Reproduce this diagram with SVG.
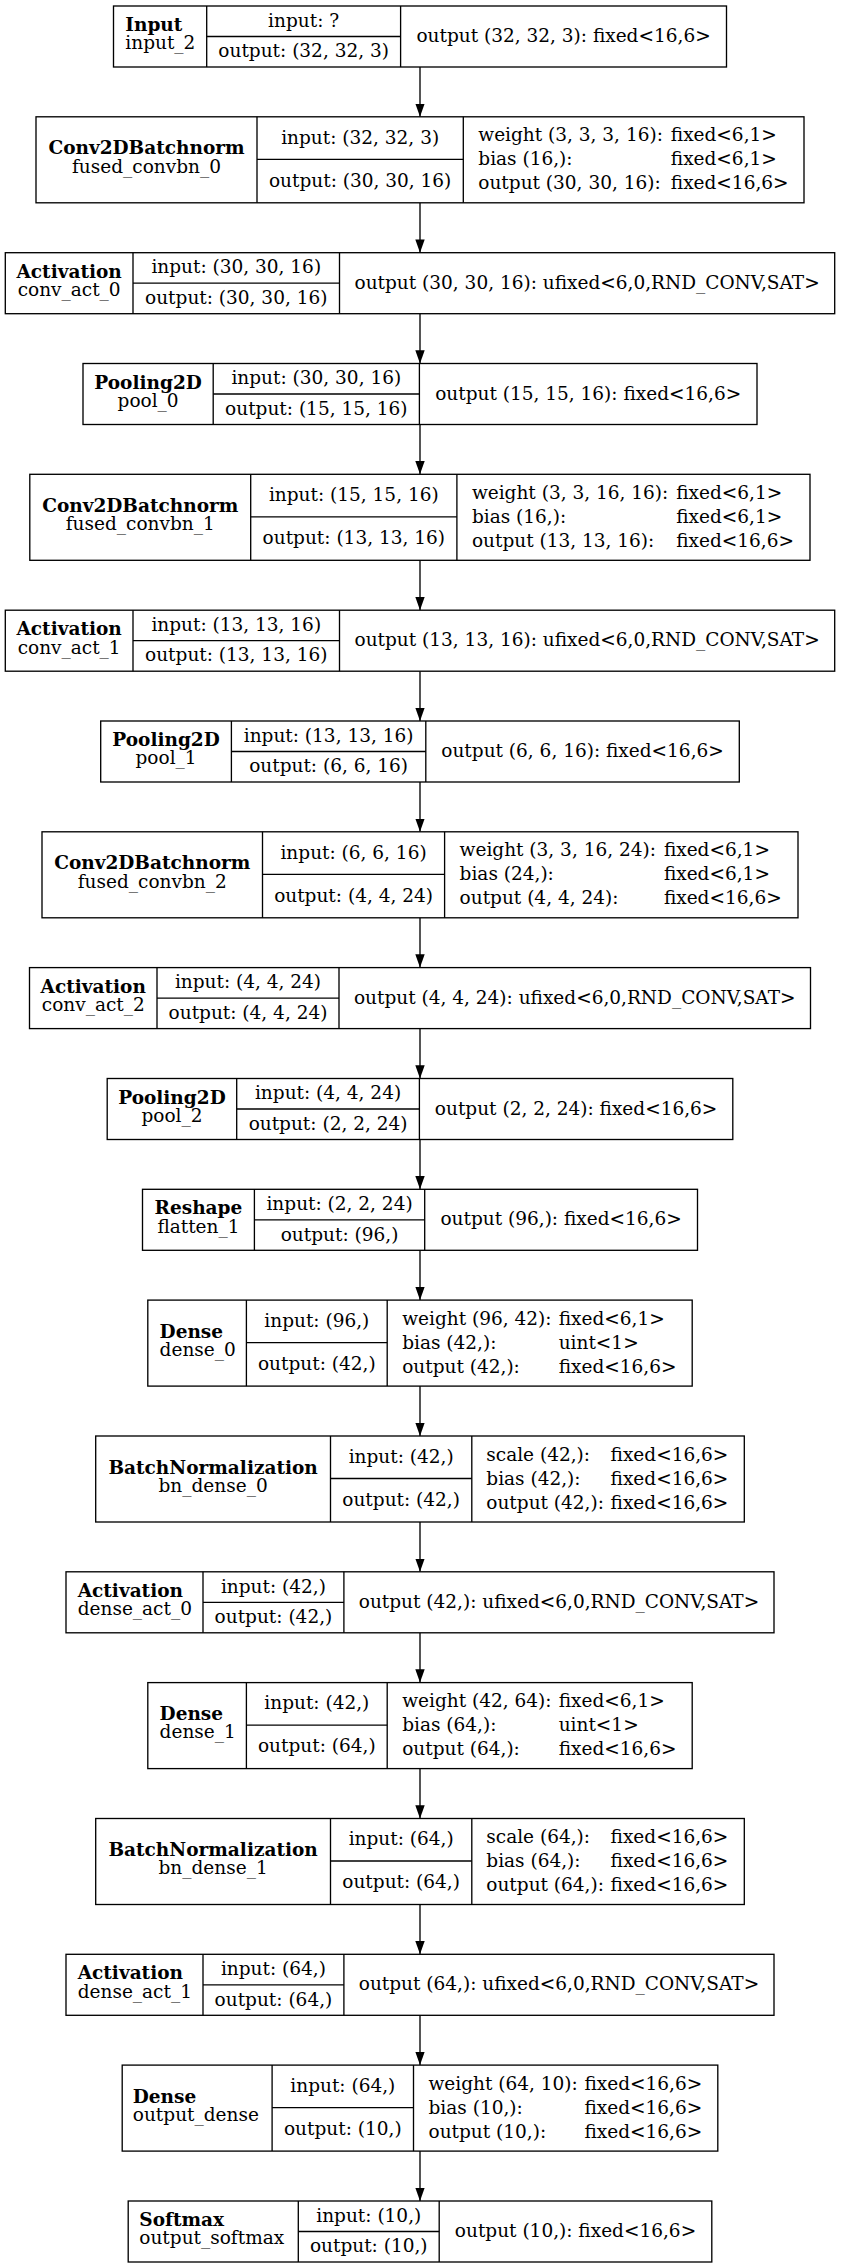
<svg xmlns="http://www.w3.org/2000/svg" width="841" height="2268" viewBox="0 0 841 2268">
<defs>
<style>
.t{font-family:"DejaVu Serif","Liberation Serif",serif;font-size:18.5px;fill:#000}
.b{font-weight:bold}
.m{text-anchor:middle}
.box{fill:#fff;stroke:#000;stroke-width:1.33}
.ln{stroke:#000;stroke-width:1.33;fill:none}
</style>
<marker id="ah" markerUnits="userSpaceOnUse" markerWidth="14" markerHeight="10" refX="13.3" refY="4.7" orient="auto">
<path d="M0,0 L13.3,4.7 L0,9.4 z" fill="#000"/>
</marker>
</defs>
<rect x="0" y="0" width="841" height="2268" fill="#fff"/>
<g id="edges" class="ln" marker-end="url(#ah)">
<line x1="420" y1="67" x2="420" y2="116.8" marker-end="url(#ah)"/>
<line x1="420" y1="202.8" x2="420" y2="252.7" marker-end="url(#ah)"/>
<line x1="420" y1="313.7" x2="420" y2="363.5" marker-end="url(#ah)"/>
<line x1="420" y1="424.5" x2="420" y2="474.3" marker-end="url(#ah)"/>
<line x1="420" y1="560.3" x2="420" y2="610.2" marker-end="url(#ah)"/>
<line x1="420" y1="671.2" x2="420" y2="721" marker-end="url(#ah)"/>
<line x1="420" y1="782" x2="420" y2="831.8" marker-end="url(#ah)"/>
<line x1="420" y1="917.8" x2="420" y2="967.6" marker-end="url(#ah)"/>
<line x1="420" y1="1028.6" x2="420" y2="1078.5" marker-end="url(#ah)"/>
<line x1="420" y1="1139.5" x2="420" y2="1189.3" marker-end="url(#ah)"/>
<line x1="420" y1="1250.3" x2="420" y2="1300.1" marker-end="url(#ah)"/>
<line x1="420" y1="1386.1" x2="420" y2="1436" marker-end="url(#ah)"/>
<line x1="420" y1="1522" x2="420" y2="1571.8" marker-end="url(#ah)"/>
<line x1="420" y1="1632.8" x2="420" y2="1682.6" marker-end="url(#ah)"/>
<line x1="420" y1="1768.6" x2="420" y2="1818.5" marker-end="url(#ah)"/>
<line x1="420" y1="1904.5" x2="420" y2="1954.3" marker-end="url(#ah)"/>
<line x1="420" y1="2015.3" x2="420" y2="2065.1" marker-end="url(#ah)"/>
<line x1="420" y1="2151.1" x2="420" y2="2201" marker-end="url(#ah)"/>
</g>

<g id="input_2">
<rect class="box" x="113.5" y="6" width="613" height="61"/>
<line class="ln" x1="206.7" y1="6" x2="206.7" y2="67"/>
<line class="ln" x1="400.6" y1="6" x2="400.6" y2="67"/>
<line class="ln" x1="206.7" y1="36.5" x2="400.6" y2="36.5"/>
<text class="t b" x="125.3" y="31">Input</text>
<text class="t" x="125.3" y="49.3">input_2</text>
<text class="t m" x="303.65" y="26.75">input: ?</text>
<text class="t m" x="303.65" y="57.25">output: (32, 32, 3)</text>
<text class="t m" x="563.55" y="42">output (32, 32, 3): fixed&lt;16,6&gt;</text>
</g>

<g id="fused_convbn_0">
<rect class="box" x="36" y="116.8" width="768" height="86"/>
<line class="ln" x1="257" y1="116.8" x2="257" y2="202.8"/>
<line class="ln" x1="463.3" y1="116.8" x2="463.3" y2="202.8"/>
<line class="ln" x1="257" y1="159.3" x2="463.3" y2="159.3"/>
<text class="t b m" x="146.5" y="154.3">Conv2DBatchnorm</text>
<text class="t m" x="146.5" y="172.6">fused_convbn_0</text>
<text class="t m" x="360.15" y="143.55">input: (32, 32, 3)</text>
<text class="t m" x="360.15" y="186.55">output: (30, 30, 16)</text>
<text class="t" x="478.3" y="141.3">weight (3, 3, 3, 16):</text>
<text class="t" x="670.8" y="141.3">fixed&lt;6,1&gt;</text>
<text class="t" x="478.3" y="165.3">bias (16,):</text>
<text class="t" x="670.8" y="165.3">fixed&lt;6,1&gt;</text>
<text class="t" x="478.3" y="189.3">output (30, 30, 16):</text>
<text class="t" x="670.8" y="189.3">fixed&lt;16,6&gt;</text>
</g>

<g id="conv_act_0">
<rect class="box" x="5.3" y="252.7" width="829.4" height="61"/>
<line class="ln" x1="133" y1="252.7" x2="133" y2="313.7"/>
<line class="ln" x1="339.5" y1="252.7" x2="339.5" y2="313.7"/>
<line class="ln" x1="133" y1="283.2" x2="339.5" y2="283.2"/>
<text class="t b m" x="69.15" y="277.7">Activation</text>
<text class="t m" x="69.15" y="296">conv_act_0</text>
<text class="t m" x="236.25" y="273.45">input: (30, 30, 16)</text>
<text class="t m" x="236.25" y="303.95">output: (30, 30, 16)</text>
<text class="t m" x="587.1" y="288.7">output (30, 30, 16): ufixed&lt;6,0,RND_CONV,SAT&gt;</text>
</g>

<g id="pool_0">
<rect class="box" x="83" y="363.5" width="674" height="61"/>
<line class="ln" x1="213.2" y1="363.5" x2="213.2" y2="424.5"/>
<line class="ln" x1="419.4" y1="363.5" x2="419.4" y2="424.5"/>
<line class="ln" x1="213.2" y1="394" x2="419.4" y2="394"/>
<text class="t b m" x="148.1" y="388.5">Pooling2D</text>
<text class="t m" x="148.1" y="406.8">pool_0</text>
<text class="t m" x="316.3" y="384.25">input: (30, 30, 16)</text>
<text class="t m" x="316.3" y="414.75">output: (15, 15, 16)</text>
<text class="t m" x="588.2" y="399.5">output (15, 15, 16): fixed&lt;16,6&gt;</text>
</g>

<g id="fused_convbn_1">
<rect class="box" x="29.8" y="474.3" width="780.2" height="86"/>
<line class="ln" x1="250.7" y1="474.3" x2="250.7" y2="560.3"/>
<line class="ln" x1="456.9" y1="474.3" x2="456.9" y2="560.3"/>
<line class="ln" x1="250.7" y1="516.8" x2="456.9" y2="516.8"/>
<text class="t b m" x="140.25" y="511.8">Conv2DBatchnorm</text>
<text class="t m" x="140.25" y="530.1">fused_convbn_1</text>
<text class="t m" x="353.8" y="501.05">input: (15, 15, 16)</text>
<text class="t m" x="353.8" y="544.05">output: (13, 13, 16)</text>
<text class="t" x="471.9" y="498.8">weight (3, 3, 16, 16):</text>
<text class="t" x="676.2" y="498.8">fixed&lt;6,1&gt;</text>
<text class="t" x="471.9" y="522.8">bias (16,):</text>
<text class="t" x="676.2" y="522.8">fixed&lt;6,1&gt;</text>
<text class="t" x="471.9" y="546.8">output (13, 13, 16):</text>
<text class="t" x="676.2" y="546.8">fixed&lt;16,6&gt;</text>
</g>

<g id="conv_act_1">
<rect class="box" x="5.3" y="610.2" width="829.4" height="61"/>
<line class="ln" x1="133" y1="610.2" x2="133" y2="671.2"/>
<line class="ln" x1="339.5" y1="610.2" x2="339.5" y2="671.2"/>
<line class="ln" x1="133" y1="640.7" x2="339.5" y2="640.7"/>
<text class="t b m" x="69.15" y="635.2">Activation</text>
<text class="t m" x="69.15" y="653.5">conv_act_1</text>
<text class="t m" x="236.25" y="630.95">input: (13, 13, 16)</text>
<text class="t m" x="236.25" y="661.45">output: (13, 13, 16)</text>
<text class="t m" x="587.1" y="646.2">output (13, 13, 16): ufixed&lt;6,0,RND_CONV,SAT&gt;</text>
</g>

<g id="pool_1">
<rect class="box" x="100.7" y="721" width="638.6" height="61"/>
<line class="ln" x1="231.4" y1="721" x2="231.4" y2="782"/>
<line class="ln" x1="425.8" y1="721" x2="425.8" y2="782"/>
<line class="ln" x1="231.4" y1="751.5" x2="425.8" y2="751.5"/>
<text class="t b m" x="166.05" y="746">Pooling2D</text>
<text class="t m" x="166.05" y="764.3">pool_1</text>
<text class="t m" x="328.6" y="741.75">input: (13, 13, 16)</text>
<text class="t m" x="328.6" y="772.25">output: (6, 6, 16)</text>
<text class="t m" x="582.55" y="757">output (6, 6, 16): fixed&lt;16,6&gt;</text>
</g>

<g id="fused_convbn_2">
<rect class="box" x="42" y="831.8" width="756" height="86"/>
<line class="ln" x1="262.5" y1="831.8" x2="262.5" y2="917.8"/>
<line class="ln" x1="444.6" y1="831.8" x2="444.6" y2="917.8"/>
<line class="ln" x1="262.5" y1="874.3" x2="444.6" y2="874.3"/>
<text class="t b m" x="152.25" y="869.3">Conv2DBatchnorm</text>
<text class="t m" x="152.25" y="887.6">fused_convbn_2</text>
<text class="t m" x="353.55" y="858.55">input: (6, 6, 16)</text>
<text class="t m" x="353.55" y="901.55">output: (4, 4, 24)</text>
<text class="t" x="459.6" y="856.3">weight (3, 3, 16, 24):</text>
<text class="t" x="663.9" y="856.3">fixed&lt;6,1&gt;</text>
<text class="t" x="459.6" y="880.3">bias (24,):</text>
<text class="t" x="663.9" y="880.3">fixed&lt;6,1&gt;</text>
<text class="t" x="459.6" y="904.3">output (4, 4, 24):</text>
<text class="t" x="663.9" y="904.3">fixed&lt;16,6&gt;</text>
</g>

<g id="conv_act_2">
<rect class="box" x="29.5" y="967.6" width="781" height="61"/>
<line class="ln" x1="157" y1="967.6" x2="157" y2="1028.6"/>
<line class="ln" x1="339" y1="967.6" x2="339" y2="1028.6"/>
<line class="ln" x1="157" y1="998.1" x2="339" y2="998.1"/>
<text class="t b m" x="93.25" y="992.6">Activation</text>
<text class="t m" x="93.25" y="1010.9">conv_act_2</text>
<text class="t m" x="248" y="988.35">input: (4, 4, 24)</text>
<text class="t m" x="248" y="1018.85">output: (4, 4, 24)</text>
<text class="t m" x="574.75" y="1003.6">output (4, 4, 24): ufixed&lt;6,0,RND_CONV,SAT&gt;</text>
</g>

<g id="pool_2">
<rect class="box" x="107.2" y="1078.5" width="625.6" height="61"/>
<line class="ln" x1="236.7" y1="1078.5" x2="236.7" y2="1139.5"/>
<line class="ln" x1="419.4" y1="1078.5" x2="419.4" y2="1139.5"/>
<line class="ln" x1="236.7" y1="1109" x2="419.4" y2="1109"/>
<text class="t b m" x="171.95" y="1103.5">Pooling2D</text>
<text class="t m" x="171.95" y="1121.8">pool_2</text>
<text class="t m" x="328.05" y="1099.25">input: (4, 4, 24)</text>
<text class="t m" x="328.05" y="1129.75">output: (2, 2, 24)</text>
<text class="t m" x="576.1" y="1114.5">output (2, 2, 24): fixed&lt;16,6&gt;</text>
</g>

<g id="flatten_1">
<rect class="box" x="142.5" y="1189.3" width="555" height="61"/>
<line class="ln" x1="254.4" y1="1189.3" x2="254.4" y2="1250.3"/>
<line class="ln" x1="424.7" y1="1189.3" x2="424.7" y2="1250.3"/>
<line class="ln" x1="254.4" y1="1219.8" x2="424.7" y2="1219.8"/>
<text class="t b m" x="198.45" y="1214.3">Reshape</text>
<text class="t m" x="198.45" y="1232.6">flatten_1</text>
<text class="t m" x="339.55" y="1210.05">input: (2, 2, 24)</text>
<text class="t m" x="339.55" y="1240.55">output: (96,)</text>
<text class="t m" x="561.1" y="1225.3">output (96,): fixed&lt;16,6&gt;</text>
</g>

<g id="dense_0">
<rect class="box" x="147.8" y="1300.1" width="544.4" height="86"/>
<line class="ln" x1="246.4" y1="1300.1" x2="246.4" y2="1386.1"/>
<line class="ln" x1="387.2" y1="1300.1" x2="387.2" y2="1386.1"/>
<line class="ln" x1="246.4" y1="1342.6" x2="387.2" y2="1342.6"/>
<text class="t b" x="159.6" y="1337.6">Dense</text>
<text class="t" x="159.6" y="1355.9">dense_0</text>
<text class="t m" x="316.8" y="1326.85">input: (96,)</text>
<text class="t m" x="316.8" y="1369.85">output: (42,)</text>
<text class="t" x="402.2" y="1324.6">weight (96, 42):</text>
<text class="t" x="558.7" y="1324.6">fixed&lt;6,1&gt;</text>
<text class="t" x="402.2" y="1348.6">bias (42,):</text>
<text class="t" x="558.7" y="1348.6">uint&lt;1&gt;</text>
<text class="t" x="402.2" y="1372.6">output (42,):</text>
<text class="t" x="558.7" y="1372.6">fixed&lt;16,6&gt;</text>
</g>

<g id="bn_dense_0">
<rect class="box" x="95.7" y="1436" width="648.6" height="86"/>
<line class="ln" x1="330.5" y1="1436" x2="330.5" y2="1522"/>
<line class="ln" x1="471.8" y1="1436" x2="471.8" y2="1522"/>
<line class="ln" x1="330.5" y1="1478.5" x2="471.8" y2="1478.5"/>
<text class="t b m" x="213.1" y="1473.5">BatchNormalization</text>
<text class="t m" x="213.1" y="1491.8">bn_dense_0</text>
<text class="t m" x="401.15" y="1462.75">input: (42,)</text>
<text class="t m" x="401.15" y="1505.75">output: (42,)</text>
<text class="t" x="486.3" y="1460.5">scale (42,):</text>
<text class="t" x="610.6" y="1460.5">fixed&lt;16,6&gt;</text>
<text class="t" x="486.3" y="1484.5">bias (42,):</text>
<text class="t" x="610.6" y="1484.5">fixed&lt;16,6&gt;</text>
<text class="t" x="486.3" y="1508.5">output (42,):</text>
<text class="t" x="610.6" y="1508.5">fixed&lt;16,6&gt;</text>
</g>

<g id="dense_act_0">
<rect class="box" x="66" y="1571.8" width="708" height="61"/>
<line class="ln" x1="203" y1="1571.8" x2="203" y2="1632.8"/>
<line class="ln" x1="343.9" y1="1571.8" x2="343.9" y2="1632.8"/>
<line class="ln" x1="203" y1="1602.3" x2="343.9" y2="1602.3"/>
<text class="t b" x="77.7" y="1596.8">Activation</text>
<text class="t" x="77.7" y="1615.1">dense_act_0</text>
<text class="t m" x="273.45" y="1592.55">input: (42,)</text>
<text class="t m" x="273.45" y="1623.05">output: (42,)</text>
<text class="t m" x="558.95" y="1607.8">output (42,): ufixed&lt;6,0,RND_CONV,SAT&gt;</text>
</g>

<g id="dense_1">
<rect class="box" x="147.8" y="1682.6" width="544.4" height="86"/>
<line class="ln" x1="246.4" y1="1682.6" x2="246.4" y2="1768.6"/>
<line class="ln" x1="387.2" y1="1682.6" x2="387.2" y2="1768.6"/>
<line class="ln" x1="246.4" y1="1725.1" x2="387.2" y2="1725.1"/>
<text class="t b" x="159.6" y="1720.1">Dense</text>
<text class="t" x="159.6" y="1738.4">dense_1</text>
<text class="t m" x="316.8" y="1709.35">input: (42,)</text>
<text class="t m" x="316.8" y="1752.35">output: (64,)</text>
<text class="t" x="402.2" y="1707.1">weight (42, 64):</text>
<text class="t" x="558.7" y="1707.1">fixed&lt;6,1&gt;</text>
<text class="t" x="402.2" y="1731.1">bias (64,):</text>
<text class="t" x="558.7" y="1731.1">uint&lt;1&gt;</text>
<text class="t" x="402.2" y="1755.1">output (64,):</text>
<text class="t" x="558.7" y="1755.1">fixed&lt;16,6&gt;</text>
</g>

<g id="bn_dense_1">
<rect class="box" x="95.7" y="1818.5" width="648.6" height="86"/>
<line class="ln" x1="330.5" y1="1818.5" x2="330.5" y2="1904.5"/>
<line class="ln" x1="471.8" y1="1818.5" x2="471.8" y2="1904.5"/>
<line class="ln" x1="330.5" y1="1861" x2="471.8" y2="1861"/>
<text class="t b m" x="213.1" y="1856">BatchNormalization</text>
<text class="t m" x="213.1" y="1874.3">bn_dense_1</text>
<text class="t m" x="401.15" y="1845.25">input: (64,)</text>
<text class="t m" x="401.15" y="1888.25">output: (64,)</text>
<text class="t" x="486.3" y="1843">scale (64,):</text>
<text class="t" x="610.6" y="1843">fixed&lt;16,6&gt;</text>
<text class="t" x="486.3" y="1867">bias (64,):</text>
<text class="t" x="610.6" y="1867">fixed&lt;16,6&gt;</text>
<text class="t" x="486.3" y="1891">output (64,):</text>
<text class="t" x="610.6" y="1891">fixed&lt;16,6&gt;</text>
</g>

<g id="dense_act_1">
<rect class="box" x="66" y="1954.3" width="708" height="61"/>
<line class="ln" x1="203" y1="1954.3" x2="203" y2="2015.3"/>
<line class="ln" x1="343.9" y1="1954.3" x2="343.9" y2="2015.3"/>
<line class="ln" x1="203" y1="1984.8" x2="343.9" y2="1984.8"/>
<text class="t b" x="77.7" y="1979.3">Activation</text>
<text class="t" x="77.7" y="1997.6">dense_act_1</text>
<text class="t m" x="273.45" y="1975.05">input: (64,)</text>
<text class="t m" x="273.45" y="2005.55">output: (64,)</text>
<text class="t m" x="558.95" y="1990.3">output (64,): ufixed&lt;6,0,RND_CONV,SAT&gt;</text>
</g>

<g id="output_dense">
<rect class="box" x="122.2" y="2065.1" width="595.6" height="86"/>
<line class="ln" x1="272.1" y1="2065.1" x2="272.1" y2="2151.1"/>
<line class="ln" x1="413.5" y1="2065.1" x2="413.5" y2="2151.1"/>
<line class="ln" x1="272.1" y1="2107.6" x2="413.5" y2="2107.6"/>
<text class="t b" x="132.8" y="2102.6">Dense</text>
<text class="t" x="132.8" y="2120.9">output_dense</text>
<text class="t m" x="342.8" y="2091.85">input: (64,)</text>
<text class="t m" x="342.8" y="2134.85">output: (10,)</text>
<text class="t" x="428.5" y="2089.6">weight (64, 10):</text>
<text class="t" x="584.5" y="2089.6">fixed&lt;16,6&gt;</text>
<text class="t" x="428.5" y="2113.6">bias (10,):</text>
<text class="t" x="584.5" y="2113.6">fixed&lt;16,6&gt;</text>
<text class="t" x="428.5" y="2137.6">output (10,):</text>
<text class="t" x="584.5" y="2137.6">fixed&lt;16,6&gt;</text>
</g>

<g id="output_softmax">
<rect class="box" x="128.2" y="2201" width="583.6" height="61"/>
<line class="ln" x1="298.3" y1="2201" x2="298.3" y2="2262"/>
<line class="ln" x1="439.2" y1="2201" x2="439.2" y2="2262"/>
<line class="ln" x1="298.3" y1="2231.5" x2="439.2" y2="2231.5"/>
<text class="t b" x="139.3" y="2226">Softmax</text>
<text class="t" x="139.3" y="2244.3">output_softmax</text>
<text class="t m" x="368.75" y="2221.75">input: (10,)</text>
<text class="t m" x="368.75" y="2252.25">output: (10,)</text>
<text class="t m" x="575.5" y="2237">output (10,): fixed&lt;16,6&gt;</text>
</g>
</svg>
